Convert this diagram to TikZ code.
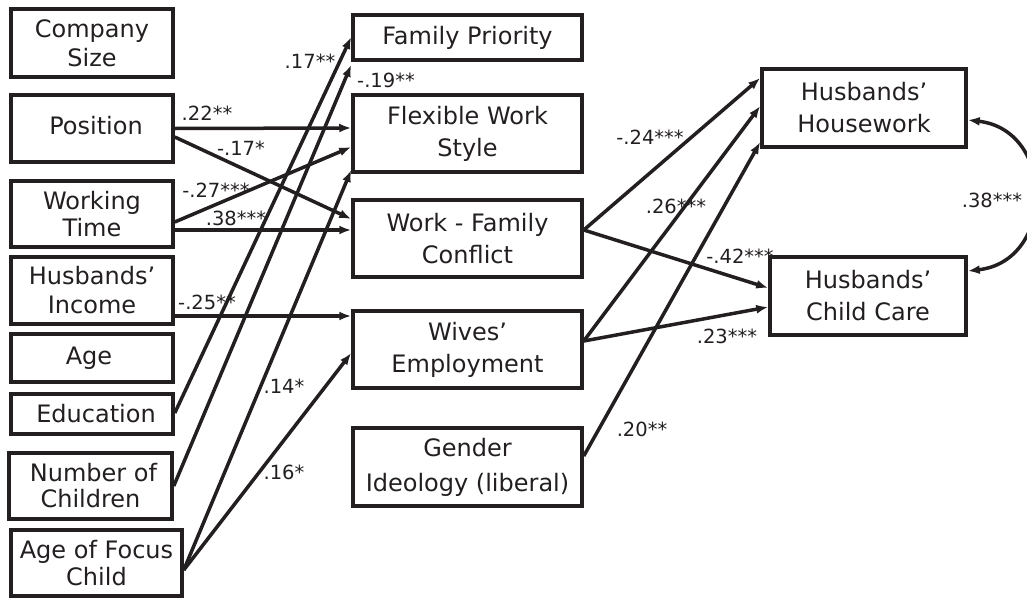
\documentclass[tikz,border=0pt]{standalone}
\usepackage{fontspec}
\setmainfont{DejaVu Sans}
\usetikzlibrary{arrows.meta}
\definecolor{ink}{HTML}{231F20}
\tikzset{
  box/.style={draw=ink, line width=3.5pt, rectangle, inner sep=0pt, align=center,
    font=\fontsize{24}{29}\selectfont, text=ink},
  lbl/.style={inner sep=0pt, font=\fontsize{19.5}{22}\selectfont, text=ink},
  path/.style={draw=ink, line width=3.5pt, -{Latex[length=12pt,width=9pt]}},
}
\begin{document}
\begin{tikzpicture}[x=1pt,y=-1pt]
\useasboundingbox (0,0) rectangle (1027,597);
% left column
\node[box, minimum width=162pt, minimum height=68pt] (cs) at (92,43) {Company\\Size};
\node[box, minimum width=162pt, minimum height=67pt] (pos) at (92,128.5) {\raisebox{6pt}{\hspace{8pt}Position}};
\node[box, minimum width=162pt, minimum height=66pt, font=\fontsize{24}{27}\selectfont] (wt) at (92,214) {Working\\Time};
\node[box, minimum width=162pt, minimum height=67pt] (inc) at (92,290.5) {Husbands'\\Income};
\node[box, minimum width=162pt, minimum height=48pt] (age) at (92,358) {\hspace{-6pt}Age};
\node[box, minimum width=162pt, minimum height=40pt] (edu) at (92,414) {\raisebox{-4pt}{\hspace{8pt}Education}};
\node[box, minimum width=163pt, minimum height=66pt, font=\fontsize{24}{26}\selectfont] (noc) at (90.5,486) {\hspace{6pt}Number of\\Children};
\node[box, minimum width=171pt, minimum height=66pt, font=\fontsize{24}{27}\selectfont] (afc) at (96.5,563) {Age of Focus\\Child};
% middle column
\node[box, minimum width=229pt, minimum height=45pt] (fp) at (467.5,37.5) {Family Priority};
\node[box, minimum width=229pt, minimum height=77pt, font=\fontsize{24}{32}\selectfont] (fws) at (467.5,133.5) {Flexible Work\\Style};
\node[box, minimum width=229pt, minimum height=77pt, font=\fontsize{24}{32}\selectfont] (wfc) at (467.5,238.5) {Work - Family\\Conflict};
\node[box, minimum width=229pt, minimum height=77pt, font=\fontsize{24}{32}\selectfont] (we) at (467.5,349.5) {Wives'\\Employment};
\node[box, minimum width=229pt, minimum height=78pt, font=\fontsize{24}{35}\selectfont] (gi) at (467.5,467) {Gender\\Ideology (liberal)};
% right column
\node[box, minimum width=204pt, minimum height=78pt, font=\fontsize{24}{32}\selectfont] (hh) at (864,108) {Husbands'\\Housework};
\node[box, minimum width=196pt, minimum height=78pt, font=\fontsize{24}{32}\selectfont] (hcc) at (868,296) {Husbands'\\Child Care};
% left to middle paths
\draw[path] (pos.east) -- ([yshift=5.5pt]fws.west);
\draw[path] ([yshift=-8.5pt]pos.east) -- ([yshift=19.5pt]wfc.west);
\draw[path] ([yshift=-8pt]wt.east) -- ([yshift=-13.5pt]fws.west);
\draw[path] ([yshift=-16pt]wt.east) -- ([yshift=8.5pt]wfc.west);
\draw[path] ([yshift=-25.5pt]inc.east) -- ([yshift=33.5pt]we.west);
\draw[path] ([yshift=1pt]edu.east) -- ([yshift=0.5pt]fp.west);
\draw[path] (noc.east) -- ([yshift=-3pt]fp.south west);
\draw[path] ([yshift=-7pt]afc.east) -- ([yshift=-36.5pt]fws.west);
\draw[path] ([yshift=-7pt]afc.east) -- ([yshift=-3.5pt]we.west);
% middle to right paths
\draw[path] ([yshift=8.5pt]wfc.east) -- ([yshift=30pt]hh.west);
\draw[path] ([yshift=8.5pt]wfc.east) -- ([yshift=8pt]hcc.west);
\draw[path] ([yshift=8.5pt]we.east) -- ([yshift=2pt]hh.west);
\draw[path] ([yshift=8.5pt]we.east) -- ([yshift=-11pt]hcc.west);
\draw[path] ([yshift=11pt]gi.east) -- ([yshift=-34pt]hh.west);
% covariance
\draw[draw=ink, line width=3.5pt, {Latex[length=12pt,width=9pt]}-{Latex[length=12pt,width=9pt]}]
  ([yshift=-12pt]hh.east) .. controls +(88pt,-10pt) and +(88pt,10pt) .. ([yshift=25pt]hcc.east);
% labels
\node[lbl] (l1) at (207,113) {.22**};
\node[lbl] (l2) at (241,148) {-.17*};
\node[lbl] (l3) at (216,190) {-.27***};
\node[lbl] (l4) at (236,218) {.38***};
\node[lbl] (l5) at (207,302) {-.25**};
\node[lbl] (l6) at (310,61) {.17**};
\node[lbl] (l7) at (386,80) {-.19**};
\node[lbl] (l8) at (284,386) {.14*};
\node[lbl] (l9) at (284,472) {.16*};
\node[lbl] (l10) at (650,137) {-.24***};
\node[lbl] (l11) at (676,206) {.26***};
\node[lbl] (l12) at (740,256) {-.42***};
\node[lbl] (l13) at (727,336) {.23***};
\node[lbl] (l14) at (642,429) {.20**};
\node[lbl] (l15) at (992,200) {.38***};
\end{tikzpicture}
\end{document}
